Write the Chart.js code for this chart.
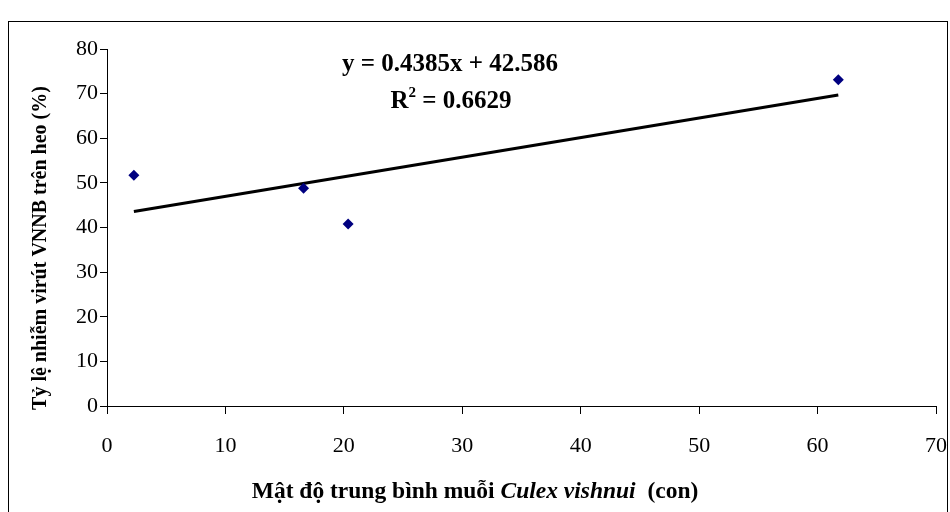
<!DOCTYPE html>
<html>
<head>
<meta charset="utf-8">
<script src="https://cdn.jsdelivr.net/npm/chart.js@4.4.1/dist/chart.umd.min.js"></script>
<style>
  html, body { margin: 0; padding: 0; background: #fff; }
  #wrap { width: 950px; height: 512px; position: relative; }
</style>
</head>
<body>
<div id="wrap"><canvas id="scatter" width="950" height="512"></canvas></div>
<script>
// mật độ muỗi (x) và tỷ lệ nhiễm (y)
var densityX = [2.27, 16.6, 20.36, 61.75];
var infectionY = [51.7, 48.8, 40.8, 73.1];
// đường xu hướng (đầu và cuối)
var trendX = [2.27, 61.75];
var trendY = [43.6, 69.7];
var xTicks = [0, 10, 20, 30, 40, 50, 60, 70];
var yTicks = [0, 10, 20, 30, 40, 50, 60, 70, 80];
var eqText = "y = 0.4385x + 42.586";
var r2Text = "0.6629";
var yTitle = "Tỷ lệ nhiễm virút VNNB trên heo (%)";
var xTitleParts = [
  {text: "Mật độ trung bình muỗi ", italic: false},
  {text: "Culex vishnui", italic: true},
  {text: "  (con)", italic: false}
];

var serif = "'Liberation Serif', 'Times New Roman', serif";

function toPoints(xs, ys){
  var pts = [];
  xs.forEach(function(v, i){ pts.push({x: v, y: ys[i]}); });
  return pts;
}

var textPlugin = {
  id: "texts",
  beforeDraw: function(chart){
    var ctx = chart.ctx;
    ctx.save();
    ctx.fillStyle = "#fff";
    ctx.fillRect(0, 0, chart.width, chart.height);
    ctx.strokeStyle = "#000";
    ctx.lineWidth = 1;
    ctx.strokeRect(8.5, 21.5, 939, 600);
    ctx.restore();
  },
  afterDraw: function(chart){
    var ctx = chart.ctx;
    ctx.save();
    ctx.fillStyle = "#000";
    ctx.textBaseline = "alphabetic";

    // phương trình hồi quy
    ctx.font = "bold 25px " + serif;
    ctx.textAlign = "center";
    ctx.fillText(eqText, 450, 71);

    // R bình phương
    var partA = "R";
    var partB = " = " + r2Text;
    ctx.font = "bold 25px " + serif;
    var wA = ctx.measureText(partA).width;
    var wB = ctx.measureText(partB).width;
    ctx.font = "bold 15px " + serif;
    var wS = ctx.measureText("2").width;
    var start = 451 - (wA + wS + wB) / 2;
    ctx.textAlign = "left";
    ctx.font = "bold 25px " + serif;
    ctx.fillText(partA, start, 108);
    ctx.font = "bold 15px " + serif;
    ctx.fillText("2", start + wA, 97);
    ctx.font = "bold 25px " + serif;
    ctx.fillText(partB, start + wA + wS, 108);

    // tiêu đề trục x
    var total = 0;
    xTitleParts.forEach(function(p){
      ctx.font = (p.italic ? "italic " : "") + "bold 23.5px " + serif;
      p.w = ctx.measureText(p.text).width;
      total += p.w;
    });
    var xs = 475 - total / 2;
    xTitleParts.forEach(function(p){
      ctx.font = (p.italic ? "italic " : "") + "bold 23.5px " + serif;
      ctx.fillText(p.text, xs, 498);
      xs += p.w;
    });

    // tiêu đề trục y
    ctx.translate(46, 248);
    ctx.rotate(-Math.PI / 2);
    ctx.textAlign = "center";
    ctx.font = "bold 20px " + serif;
    ctx.fillText(yTitle, 0, 0);
    ctx.restore();
  }
};

var ctxScatter = document.getElementById("scatter").getContext("2d");
var configs = {
  "type": "scatter",
  "data": {
    "datasets": [
      {
        "data": toPoints(densityX, infectionY),
        "backgroundColor": "#000080",
        "borderColor": "#000080",
        "pointStyle": "rectRot",
        "pointRadius": 5.5,
        "pointHoverRadius": 5.5,
        "borderWidth": 0
      },
      {
        "type": "line",
        "data": toPoints(trendX, trendY),
        "borderColor": "#000",
        "borderWidth": 3,
        "pointRadius": 0,
        "fill": false
      }
    ]
  },
  "options": {
    "responsive": false,
    "animation": false,
    "events": [],
    "layout": { "padding": { "top": 49, "right": 14, "left": 0, "bottom": 0 } },
    "plugins": {
      "legend": { "display": false },
      "tooltip": { "enabled": false }
    },
    "scales": {
      "x": {
        "type": "linear",
        "min": xTicks[0],
        "max": xTicks[xTicks.length - 1],
        "afterBuildTicks": function(s){ s.ticks = xTicks.map(function(v){ return {value: v}; }); },
        "afterFit": function(s){ s.height = 106; s.paddingLeft = 0; s.paddingRight = 0; },
        "grid": { "drawOnChartArea": false, "tickLength": 8, "color": "#000", "tickColor": "#000" },
        "border": { "color": "#000", "width": 1 },
        "ticks": { "color": "#000", "padding": 19, "maxRotation": 0, "font": { "family": serif, "size": 22 } }
      },
      "y": {
        "type": "linear",
        "min": yTicks[0],
        "max": yTicks[yTicks.length - 1],
        "afterBuildTicks": function(s){ s.ticks = yTicks.map(function(v){ return {value: v}; }); },
        "afterFit": function(s){ s.width = 107; s.paddingTop = 0; s.paddingBottom = 0; },
        "grid": { "drawOnChartArea": false, "tickLength": 7, "color": "#000", "tickColor": "#000" },
        "border": { "color": "#000", "width": 1 },
        "ticks": { "color": "#000", "padding": 2, "font": { "family": serif, "size": 22 } }
      }
    }
  },
  "plugins": [textPlugin]
};
var scatterChart = new Chart(ctxScatter, configs);
</script>
</body>
</html>
